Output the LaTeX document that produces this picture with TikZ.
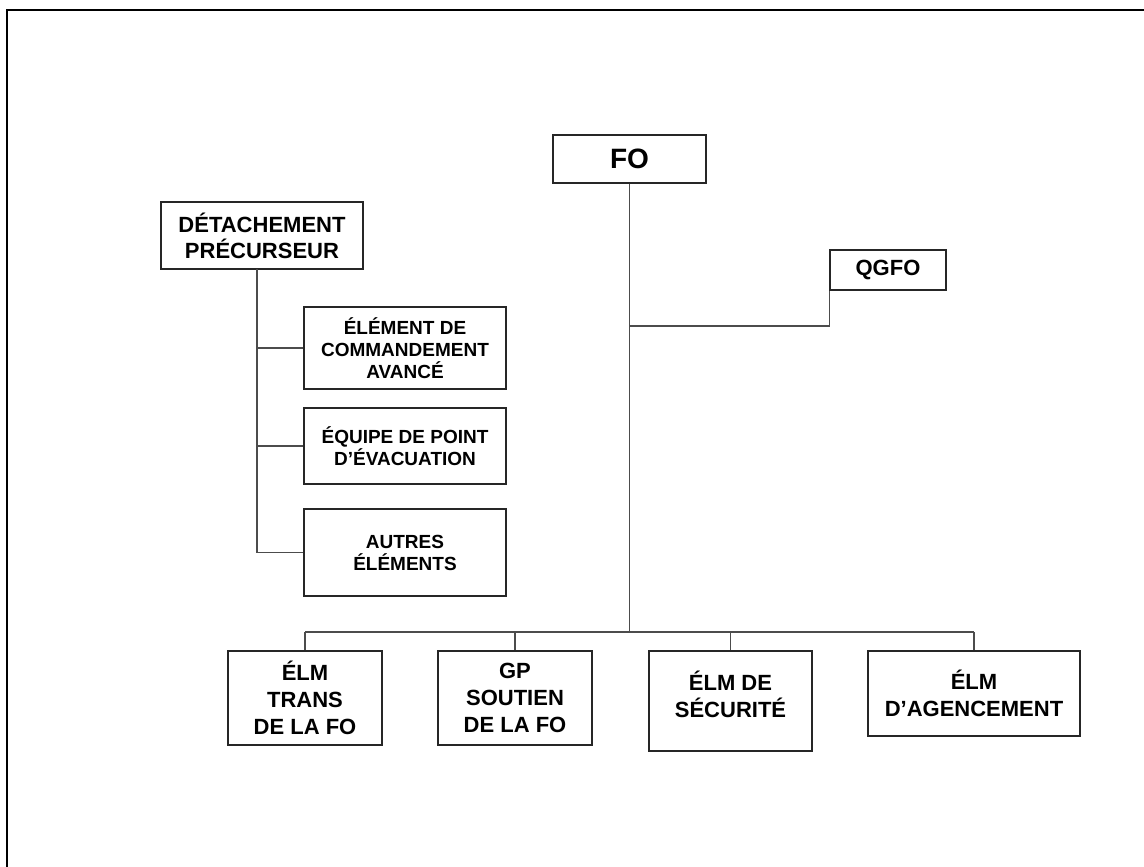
\documentclass[tikz,border=0pt]{standalone}
\usepackage{fontspec}
\setmainfont{Liberation Sans}
\begin{document}
\begin{tikzpicture}[x=1pt,y=-1pt,
  box/.style={draw=black!85, line width=1.2pt, inner sep=0pt, align=center},
  conn/.style={draw=black!70, line width=1.2pt},
  fbig/.style={font=\bfseries\fontsize{28}{32}\selectfont},
  fmid/.style={font=\bfseries\fontsize{22}{26}\selectfont},
  fsmall/.style={font=\bfseries\fontsize{19}{22}\selectfont},
  fbot/.style={font=\bfseries\fontsize{22}{27}\selectfont}]
\useasboundingbox (0,0) rectangle (1144,867);
\fill[white] (0,0) rectangle (1144,867);
\draw[line width=2pt, black] (7,868) -- (7,10) -- (1145,10);

\node[box, fbig, minimum width=153pt, minimum height=48pt] (FO) at (629.5,159) {FO};
\node[box, fmid, minimum width=116pt, minimum height=40pt] (QG) at (888,270) {QGFO};
\node[box, fmid, minimum width=202pt, minimum height=67pt] (DP) at (262,235.5) {DÉTACHEMENT\\PRÉCURSEUR};
\node[box, fsmall, minimum width=202pt, minimum height=82pt] (EL) at (405,348) {ÉLÉMENT DE\\COMMANDEMENT\\AVANCÉ};
\node[box, fsmall, minimum width=202pt, minimum height=76pt] (EQ) at (405,446) {ÉQUIPE DE POINT\\D’ÉVACUATION};
\node[box, fsmall, minimum width=202pt, minimum height=87pt] (AU) at (405,552.5) {AUTRES\\ÉLÉMENTS};
\node[box, fbot, minimum width=154pt, minimum height=94pt] (TR) at (305,698) {ÉLM\\TRANS\\DE LA FO};
\node[box, fbot, minimum width=154pt, minimum height=94pt] (GP) at (515,698) {GP\\SOUTIEN\\DE LA FO};
\node[box, fbot, minimum width=163pt, minimum height=100pt, text depth=0pt] (SE) at (730.5,701) {ÉLM DE\\SÉCURITÉ\\[-14pt]\mbox{}};
\node[box, fbot, minimum width=212pt, minimum height=85pt] (AG) at (974,693.5) {ÉLM\\D’AGENCEMENT};

\coordinate (bar) at (629.5,632);
\coordinate (qj) at (629.5,326);
\coordinate (dj) at (257,269);

% trunk
\draw[conn] (FO.south) -- (bar);
\draw[conn] (qj) -| (QG.south west);
\draw[conn] (TR.north |- bar) -- (AG.north |- bar);
\draw[conn] (TR.north |- bar) -- (TR.north);
\draw[conn] (GP.north |- bar) -- (GP.north);
\draw[conn] (SE.north |- bar) -- (SE.north);
\draw[conn] (AG.north |- bar) -- (AG.north);

% left branch
\draw[conn] (dj) |- (AU.west);
\draw[conn] (dj |- EL.west) -- (EL.west);
\draw[conn] (dj |- EQ.west) -- (EQ.west);
\end{tikzpicture}
\end{document}
